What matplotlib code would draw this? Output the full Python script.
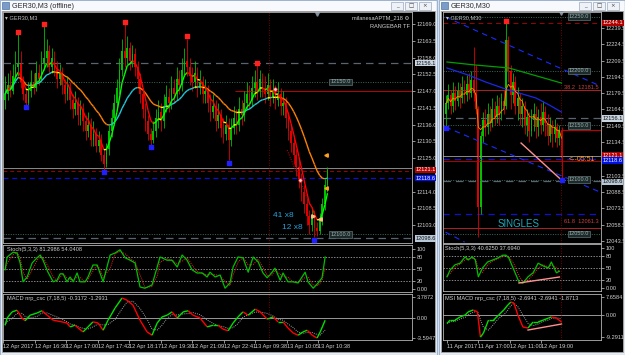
import numpy as np
import pandas as pd
import matplotlib
matplotlib.use("Agg")
import matplotlib.pyplot as plt
from matplotlib.collections import LineCollection
from matplotlib.patches import Rectangle
from matplotlib.transforms import blended_transform_factory

# ---------------- GER30 M3 (left window) ----------------
m3_open0 = 12144
m3_close = [12146, 12149, 12147, 12152, 12155, 12156, 12150, 12146, 12143, 12147,
            12150, 12148, 12153, 12151, 12156, 12158, 12160, 12155, 12158, 12154,
            12151, 12153, 12149, 12146, 12148, 12144, 12141, 12143, 12139, 12141,
            12137, 12134, 12136, 12131, 12133, 12129, 12131, 12126, 12123, 12128,
            12134, 12138, 12143, 12148, 12154, 12160, 12158, 12161, 12157, 12159,
            12155, 12151, 12146, 12141, 12137, 12133, 12131, 12134, 12138, 12140,
            12137, 12142, 12145, 12143, 12148, 12146, 12151, 12149, 12154, 12157,
            12155, 12152, 12150, 12153, 12148, 12150, 12146, 12147, 12143, 12140,
            12142, 12137, 12139, 12135, 12133, 12136, 12131, 12135, 12138, 12136,
            12141, 12139, 12143, 12146, 12144, 12148, 12150, 12147, 12151, 12148,
            12146, 12149, 12145, 12147, 12144, 12146, 12142, 12143, 12138, 12134,
            12130, 12126, 12122, 12118, 12114, 12110, 12106, 12103, 12106, 12102,
            12101, 12105, 12110, 12116, 12121]
m3_high = [12152, 12153, 12154, 12156, 12160, 12165.7, 12160, 12152, 12148, 12150,
           12154, 12153, 12157, 12156, 12160, 12168.3, 12164, 12162, 12161, 12160,
           12157, 12156, 12155, 12151, 12152, 12150, 12146, 12147, 12145, 12144,
           12143, 12139, 12140, 12138, 12137, 12135, 12134, 12133, 12128, 12130,
           12136, 12141, 12146, 12151, 12158, 12164, 12169, 12165, 12163, 12162,
           12161, 12157, 12153, 12148, 12143, 12139, 12135, 12137, 12141, 12144,
           12143, 12146, 12149, 12148, 12152, 12151, 12155, 12154, 12158, 12161,
           12164.1, 12158, 12155, 12157, 12155, 12154, 12152, 12151, 12149, 12146,
           12146, 12144, 12143, 12141, 12138, 12139, 12138, 12138, 12142, 12141,
           12145, 12144, 12147, 12150, 12149, 12152, 12154, 12155.5, 12154, 12153,
           12152, 12153, 12151, 12151, 12149, 12150, 12148, 12147, 12145, 12140,
           12136, 12132, 12128, 12125, 12120, 12116, 12112, 12108, 12109, 12108,
           12104, 12107, 12112, 12118, 12122]
m3_low = [12141, 12144, 12145, 12146, 12150, 12152, 12148, 12144, 12142.4, 12142,
          12145, 12146, 12147, 12149, 12150, 12154, 12155, 12153, 12153, 12152,
          12148, 12149, 12146, 12143, 12144, 12141, 12138, 12139, 12136, 12136,
          12134, 12131, 12132, 12129, 12129, 12127, 12127, 12124, 12121.1, 12122,
          12126, 12132, 12136, 12141, 12146, 12152, 12155, 12156, 12154, 12155,
          12152, 12148, 12143, 12138, 12134, 12131, 12129.3, 12130, 12132, 12135,
          12134, 12135, 12140, 12140, 12141, 12143, 12144, 12146, 12147, 12152,
          12152, 12149, 12147, 12148, 12145, 12146, 12143, 12143, 12140, 12137,
          12138, 12134, 12135, 12132, 12130, 12131, 12124.3, 12129, 12133, 12133,
          12134, 12136, 12137, 12141, 12141, 12142, 12145, 12144, 12145, 12145,
          12143, 12144, 12142, 12143, 12141, 12142, 12139, 12139, 12135, 12131,
          12127, 12123, 12119, 12115, 12111, 12107, 12103, 12100, 12101, 12099,
          12099.5, 12100, 12103, 12108, 12114]
m3_top_dots = [5, 15, 46, 70, 97]
m3_bottom_dots = [8, 38, 56, 86, 119]
m3_price_ticks = [12169.0, 12163.5, 12158.0, 12152.5, 12147.0, 12141.5, 12136.0,
                  12130.5, 12125.0, 12114.0, 12108.5, 12103.0]
m3_time_labels = ["12 Apr 2017", "12 Apr 16:30", "12 Apr 17:00", "12 Apr 17:42",
                  "12 Apr 18:17", "12 Apr 19:30", "12 Apr 21:09", "12 Apr 22:41",
                  "13 Apr 09:38", "13 Apr 10:05", "13 Apr 10:38"]

m3_stoch_x = [0, 0.8, 3.1, 4.6, 5.8, 6.9, 8.5, 10.4, 12.3, 13.5, 14.6, 16.5, 18.5, 20,
              21.2, 22.3, 23.8, 25, 26.2, 27.7, 28.8, 30.8, 31.9, 33.8, 35.4, 36.5,
              37.7, 40.4, 42.3, 44.2, 46.2, 48.1, 50, 51.9, 53.8, 56.5, 58.5, 59.6,
              62.3, 64.2, 66.2, 68.1, 70, 71.9, 73.8, 75.8, 77.7, 78.8, 80.8, 82.7,
              84.6, 86.5, 87.7, 89.6, 91.5, 93.5, 95.4, 97.3, 99.2, 100.8, 102.7,
              103.8, 105.8, 106.9, 108.8, 110.8, 112.7, 115.4, 116.5, 118.5, 120.4,
              121.9, 123.1]
m3_stoch_k = [48, 80, 92, 90, 65, 18, 30, 65, 78, 85, 72, 42, 18, 22, 38, 38, 18, 30,
              18, 40, 18, 18, 30, 60, 60, 40, 18, 85, 90, 98, 78, 72, 65, 5, 2, 10,
              55, 80, 72, 72, 55, 85, 72, 48, 40, 40, 30, 42, 30, 35, 2, 15, 55, 80,
              78, 42, 80, 68, 40, 28, 42, 52, 22, 40, 18, 18, 15, 42, 18, 2, 15, 28, 80]
m3_macd_x = [0, 0.8, 2.7, 4.6, 6.5, 7.7, 9.6, 12.3, 14.2, 16.2, 18.5, 21.9, 23.8, 25,
             26.9, 28.1, 30, 31.9, 33.8, 35.8, 37.7, 39.6, 42.3, 45, 46.9, 49.2, 51.9,
             54.6, 56.5, 58.5, 60.4, 62.3, 64.2, 66.2, 68.5, 70.4, 72.3, 75, 77.7, 80,
             81.9, 83.8, 85.8, 87.7, 89.6, 91.5, 93.5, 96.2, 98.1, 100.8, 103.1, 105,
             106.9, 108.8, 110.8, 112.7, 114.6, 116.2, 118.1, 120, 121.2, 123.1]
m3_macd = [-1.3, 0, 1.1, 1.4, 0, -0.5, 0.5, 0.9, 1.3, 0.5, -0.4, -0.7, -0.9, -1.6,
           -1.3, -1.8, -2.5, -1.6, -0.7, -0.9, -2.2, -0.4, 1.8, 3.6, 3.2, 2.3, -0.4,
           -2.5, -3.1, -0.9, 0.2, 0.5, 1.1, 0, 1.1, 1.3, 0.5, 0, -1.6, -1.3, -1.3,
           -2.0, -2.3, -0.9, 0.2, 1.1, 0.5, 1.6, 1.1, -0.2, 0.2, -0.7, -0.7, -1.8,
           -2.7, -3.1, -2.5, -2.2, -3.1, -3.6, -2.5, -0.4]

# ---------------- GER30 M30 (right window) ----------------
m30_open0 = 12160
m30_close = [12170, 12178, 12168, 12180, 12172, 12182, 12175, 12185, 12178, 12188,
             12180, 12192, 12180, 12165, 12075, 12140, 12155, 12148, 12160, 12152,
             12165, 12158, 12168, 12160, 12172, 12168, 12228, 12200, 12178, 12190,
             12168, 12175, 12160, 12168, 12150, 12158, 12145, 12155, 12160, 12148,
             12158, 12150, 12162, 12152, 12140, 12150, 12142, 12148, 12138, 12146,
             12120]
m30_high = [12178, 12188, 12182, 12190, 12186, 12190, 12189, 12195, 12192, 12196,
            12198, 12200, 12222, 12205, 12168, 12145, 12162, 12165, 12170, 12168,
            12175, 12172, 12178, 12176, 12180, 12182, 12245, 12232, 12205, 12198,
            12195, 12185, 12180, 12175, 12172, 12165, 12162, 12165, 12170, 12168,
            12165, 12170, 12172, 12168, 12160, 12158, 12155, 12156, 12152, 12150,
            12148]
m30_low = [12147, 12165, 12160, 12162, 12164, 12168, 12166, 12170, 12170, 12172,
           12174, 12176, 12172, 12160, 12047, 12068, 12135, 12140, 12142, 12145,
           12148, 12150, 12152, 12150, 12155, 12160, 12165, 12190, 12165, 12170,
           12160, 12155, 12150, 12148, 12142, 12140, 12135, 12140, 12145, 12138,
           12140, 12142, 12145, 12140, 12132, 12135, 12130, 12135, 12130, 12132,
           12099.5]
m30_price_ticks = [12239.5, 12224.5, 12209.5, 12194.5, 12179.5, 12164.5, 12149.5,
                   12134.5, 12103.5, 12088.5, 12073.5, 12058.5, 12043.5]
m30_time_labels = ["11 Apr 2017", "11 Apr 17:00", "12 Apr 11:00", "12 Apr 19:00"]
m30_green_x = [0.4, 12.7, 27.2, 50]
m30_green_ma = [12208.2, 12205.4, 12202.7, 12188.8]
m30_blue_x = [0.4, 9.6, 17.1, 24.6, 30.3, 39, 44.7, 50]
m30_blue_ma = [12202.7, 12196.2, 12189.8, 12184.2, 12180.5, 12175, 12168.6, 12162.1]

m30_stoch_x = [0.4, 1.8, 3.9, 6.1, 8.3, 9.6, 11.4, 12.7, 14, 15.8, 18, 20.2, 22.4,
               24.6, 25.9, 27.2, 29.4, 31.6, 33.3, 35.5, 37.7, 39.9, 42.1, 44.3,
               45.6, 47.8, 49.1]
m30_stoch_k = [28, 45, 58, 62, 78, 70, 78, 70, 28, 50, 65, 70, 75, 82, 82, 75, 45, 15,
               12, 28, 38, 62, 55, 50, 65, 38, 42]
m30_macd_x = [0.4, 1.8, 3.9, 6.1, 8.3, 9.6, 11.8, 13.6, 14.9, 16.2, 18.4, 20.6, 22.8,
              25, 26.8, 28.1, 29.4, 31.1, 33.3, 35.5, 37.7, 39.9, 42.1, 44.3, 45.6,
              47.8, 50]
m30_macd = [-3.5, -2.1, -2.1, -0.8, 0, 1.3, 2.1, 1.3, -9.2, -7.5, -2.1, -2.1, 0, 2.1,
            4.2, 5.4, 5.0, 0, -5.0, -5.4, -2.9, -2.9, -2.1, -1.3, -0.8, -1.3, -2.9]

plt.rcParams['font.family'] = ['Liberation Sans Narrow', 'Liberation Sans', 'DejaVu Sans']
FS = 4.1

W, H = 625, 355
fig = plt.figure(figsize=(6.25, 3.55), dpi=100, facecolor='#dce6f2')


def box(x0, y0, x1, y1):
    return [x0 / W, 1 - y1 / H, (x1 - x0) / W, (y1 - y0) / H]


# window chrome
bg = fig.add_axes([0, 0, 1, 1])
bg.set_xlim(0, W)
bg.set_ylim(H, 0)
bg.axis('off')
for x0, x1, title in [(0, 437, 'GER30,M3 (offline)'), (439, 625, 'GER30,M30')]:
    bg.add_patch(Rectangle((x0, 0), x1 - x0, H, fc='#e4ecf6', ec='#9db3cf', lw=0.8))
    bg.add_patch(Rectangle((x0 + 1, 1), x1 - x0 - 2, 10, fc='#f7f9fc', ec='none'))
    bg.add_patch(Rectangle((x0 + 2, 2), 7, 7, fc='#7a9cc8', ec='#3a5f90', lw=0.4))
    bg.text(x0 + 12, 6, title, fontsize=5.2, color='#2a2a2a', va='center')
    bg.add_patch(Rectangle((x0 + 2, 11), x1 - x0 - 4, H - 14, fc='black', ec='#a8a8a8', lw=0.6))
    for k, g in enumerate(['_', '□', '×']):
        bx = x1 - 46 + 14 * k
        bg.add_patch(Rectangle((bx, 1.5), 12, 8, fc='#eef2f7', ec='#9aaac0', lw=0.5))
        bg.text(bx + 6, 5.5, g, fontsize=4, ha='center', va='center', color='#404040',
                family=['DejaVu Sans'])


def style(ax, xlim, ylim):
    ax.set_facecolor('black')
    ax.set_xlim(*xlim)
    ax.set_ylim(*ylim)
    for s in ax.spines.values():
        s.set_color('#b4b4b4')
        s.set_linewidth(0.6)
    ax.yaxis.tick_right()
    ax.tick_params(colors='#d0d0d0', labelsize=FS, length=2, width=0.5, pad=1.2)
    ax.set_xticks([])


def candles(ax, o0, c, h, l, width):
    c = np.asarray(c, float)
    o = np.concatenate([[o0], c[:-1]])
    x = np.arange(len(c))
    cols = np.where(c >= o, '#00c000', '#e00000')
    ax.vlines(x, l, h, colors=cols, lw=0.6)
    ax.bar(x, np.maximum(np.abs(c - o), 0.4), bottom=np.minimum(o, c), width=width,
           color=cols, lw=0)


def trend_line(ax, x, y, up, down, flat=None, lw=1.0, tol=0.0):
    x = np.asarray(x, float)
    y = np.asarray(y, float)
    pts = np.column_stack([x, y])
    segs = np.stack([pts[:-1], pts[1:]], axis=1)
    d = np.diff(y)
    cols = [up if v > tol else (down if v < -tol else (flat or up)) for v in d]
    ax.add_collection(LineCollection(segs, colors=cols, linewidths=lw))


def axis_box(ax, y, txt, fc, tc):
    ax.text(1.008, y, txt, transform=ax.get_yaxis_transform(), fontsize=FS, color=tc,
            va='center', ha='left', bbox=dict(boxstyle='square,pad=0.12', fc=fc, ec='none'))


def level_box(ax, x, y, txt):
    ax.text(x, y, txt, fontsize=FS, color='#9fb0b0', ha='center', va='center',
            bbox=dict(boxstyle='square,pad=0.15', fc='#1c2a2a', ec='#5f7474', lw=0.5))


def stoch_panel(ax, xs, ks, xlim, label):
    style(ax, xlim, (-7.5, 110))
    for lv in (80, 50, 20):
        ax.axhline(lv, color='#c0c0c0', ls=(0, (2, 2)), lw=0.5)
    sig = pd.Series(ks).rolling(2, min_periods=1).mean()
    ax.plot(xs, sig, color='#ff2020', ls=(0, (1, 1.2)), lw=0.7)
    ax.plot(xs, ks, color='#00c000', lw=0.9)
    ax.set_yticks([100, 80, 50, 20, 0])
    ax.set_yticklabels(['100', '80', '50', '20', '0.00'])
    ax.text(0.01, 0.95, label, transform=ax.transAxes, fontsize=FS, color='#d0d0d0', va='top')


def macd_panel(ax, xs, ms, xlim, ylim, ticks, tlabels, label, tpos, times):
    style(ax, xlim, ylim)
    ax.axhline(0, color='#b0b0b0', lw=0.6)
    sig = pd.Series(ms).rolling(3, min_periods=1).mean()
    ax.plot(xs, sig, color='#a0a0a0', ls=(0, (1, 1.2)), lw=0.7)
    trend_line(ax, xs, ms, '#00e000', '#ff0000', lw=1.0)
    ax.set_yticks(ticks)
    ax.set_yticklabels(tlabels)
    ax.text(0.01, 0.95, label, transform=ax.transAxes, fontsize=FS, color='#d0d0d0', va='top')
    ax.set_xticks(tpos)
    ax.set_xticklabels(times, ha='left')
    ax.tick_params(axis='x', length=2, pad=1.2)


# ================= left window =================
L_X = (-0.8, 156.5)
axL = fig.add_axes(box(3, 12, 412, 243))
style(axL, L_X, (12097.1, 12172.94))
axL.set_yticks(m3_price_ticks)
axL.set_yticklabels([f"{v:.1f}" for v in m3_price_ticks])

axL.axhline(12156.1, color='#5a6470', ls=(0, (6, 4)), lw=0.9)
axL.axhline(12150.0, color='#3a6a5a', ls=(0, (1, 1.5)), lw=0.7)
axL.hlines(12147.0, 88.5, L_X[1], color='#c00000', lw=0.7)
axL.axhline(12121.6, color='#a0a0a0', lw=0.6)
axL.axhline(12120.9, color='#a00000', ls=(0, (4, 3)), lw=0.7)
axL.axhline(12118.4, color='#1010d0', ls=(0, (4, 3)), lw=0.9)
axL.axhline(12100.0, color='#3a6a5a', ls=(0, (1, 1.5)), lw=0.7)
axL.axhline(12098.6, color='#5a6470', ls=(0, (6, 4)), lw=0.9)
axL.axvline(101.5, color='#a00000', ls=(0, (1, 2)), lw=0.6)

candles(axL, m3_open0, m3_close, m3_high, m3_low, 0.75)
fast = pd.Series(m3_close, dtype=float).ewm(span=5).mean()
slow = pd.Series(m3_close, dtype=float).ewm(span=20).mean()
idx = np.arange(len(m3_close))
trend_line(axL, idx, slow, '#20c8d8', '#ff8000', '#ffff00', lw=1.0, tol=0.12)
trend_line(axL, idx, fast, '#00ff00', '#ff0000', '#ffff00', lw=1.0, tol=0.3)
axL.plot([108.5, 117.3], [12127.6, 12109.5], color='#d00000', ls=(0, (1, 1.5)), lw=0.7)

axL.scatter(m3_top_dots, [m3_high[i] + 0.8 for i in m3_top_dots], s=5, marker='s', c='#ff2020', zorder=5)
axL.scatter(m3_bottom_dots, [m3_low[i] - 0.8 for i in m3_bottom_dots], s=5, marker='s', c='#2020ff', zorder=5)
axL.plot([104, 113.5], [12147.6, 12117.8], 'o', ms=2.5, mfc='#ffd8d8', mec='#ff3030', mew=0.5)
axL.plot([123.5, 123.5], [12126, 12115], '<', ms=2.5, color='#ffa020')
axL.plot([118.5], [12106], '>', ms=2.5, color='#ffc080')
axL.plot([121], [12105], '<', ms=2.5, color='#ffc080')
axL.plot([120], [12172.4], 'v', ms=2.5, color='#8090a0', clip_on=False)

axL.text(107, 12106, '41 x8', fontsize=6, color='#2aa0d8', ha='center', va='center')
axL.text(110.5, 12102.3, '12 x8', fontsize=6, color='#2aa0d8', ha='center', va='center')
level_box(axL, 129, 12150.0, '12150.0')
level_box(axL, 129, 12100.0, '12100.0')
axL.text(0.995, 0.985, 'milanesaAPTM_218 \u2699', transform=axL.transAxes, fontsize=FS,
         color='#d0d0d0', ha='right', va='top')
axL.text(0.995, 0.95, 'RANGEBAR TF', transform=axL.transAxes, fontsize=FS,
         color='#d0d0d0', ha='right', va='top')
axL.text(0.005, 0.985, '\u25be GER30,M3', transform=axL.transAxes, fontsize=FS,
         color='#c0c0c0', ha='left', va='top')
axis_box(axL, 12156.1, '12156.1', '#c8d4e0', '#101010')
axis_box(axL, 12121.1, '12121.1', '#b00000', 'white')
axis_box(axL, 12118.4, '12118.6', '#0010e0', 'white')
axis_box(axL, 12098.6, '12098.6', '#b8c8d8', '#101010')

axLs = fig.add_axes(box(3, 245, 412, 292))
stoch_panel(axLs, m3_stoch_x, m3_stoch_k, L_X, 'Stoch(5,3,3) 81.2986 54.0408')
axLs.axvline(101.5, color='#a00000', ls=(0, (1, 2)), lw=0.6)

axLm = fig.add_axes(box(3, 294, 412, 340))
macd_panel(axLm, m3_macd_x, m3_macd, L_X, (-3.96, 4.32), [3.7872, 0, -3.5947],
           ['3.7872', '0.00', '-3.5947'], 'MACD nrp_csc (7,18,5) -0.3172 -1.2931',
           -0.77 + 12.115 * np.arange(len(m3_time_labels)), m3_time_labels)
axLm.axvline(101.5, color='#a00000', ls=(0, (1, 2)), lw=0.6)

# ================= right window =================
R_X = (-1.3, 67.1)
axR = fig.add_axes(box(443, 12, 601, 243))
style(axR, R_X, (12041.6, 12254.2))
axR.set_yticks(m30_price_ticks)
axR.set_yticklabels([f"{v:.1f}" for v in m30_price_ticks])

dash = (0, (5, 4))
axR.axhline(12250.0, color='#3a6a5a', ls=(0, (1, 1.5)), lw=0.7)
axR.axhline(12244.1, color='#a00000', ls=dash, lw=0.7)
axR.axhline(12200.0, color='#3a6a5a', ls=(0, (1, 1.5)), lw=0.7)
axR.axhline(12182.4, color='#b02020', lw=0.7)
axR.axhline(12156.3, color='#5a6470', ls=(0, (6, 4)), lw=0.9)
axR.axhline(12150.0, color='#3a6a5a', ls=(0, (1, 1.5)), lw=0.7)
axR.hlines(12145.6, 50, R_X[1], color='#c00000', lw=0.8)
axR.axhline(12121.5, color='#a0a0a0', lw=0.6)
axR.axhline(12119.2, color='#1010d0', ls=dash, lw=0.9)
axR.axhline(12117.3, color='#b00000', lw=0.7)
axR.axhline(12100.0, color='#3a6a5a', ls=(0, (1, 1.5)), lw=0.7)
axR.axhline(12098.6, color='#5a6470', ls=(0, (6, 4)), lw=0.9)
axR.axhline(12068.2, color='#1010d0', ls=dash, lw=0.9)
axR.axhline(12055.5, color='#b02020', lw=0.7)
axR.axhline(12050.0, color='#3a6a5a', ls=(0, (1, 1.5)), lw=0.7)
axR.axvline(49.6, color='#a00000', ls=(0, (1, 2)), lw=0.6)

axR.plot([-0.2, 65.8], [12249.6, 12187.0], color='#1a2cff', ls=dash, lw=0.8)
axR.plot([-0.2, 66.7], [12148.3, 12088.5], color='#1a2cff', ls=dash, lw=0.8)
axR.plot([-0.2, 8.1], [12051.6, 12042.4], color='#1a2cff', ls=dash, lw=0.8)

candles(axR, m30_open0, m30_close, m30_high, m30_low, 0.8)
axR.plot(m30_green_x, m30_green_ma, color='#00a000', lw=0.9)
axR.plot(m30_blue_x, m30_blue_ma, color='#1a28e8', lw=0.9)
axR.plot(np.arange(len(m30_close)), pd.Series(m30_close, dtype=float).ewm(span=6).mean(),
         color='#ff8c00', lw=0.6)
axR.plot([32.5, 50], [12133.6, 12099.5], color='#ff9090', lw=1.0)
axR.scatter([0, 50], [m30_low[0], m30_low[50]], s=5, marker='s', c='#2020ff', zorder=5)
axR.scatter([26], [m30_high[26] + 0.5], s=5, marker='s', c='#ff2020', zorder=5)
axR.plot([49.6], [12253.5], 'v', ms=2.5, color='#8090a0', clip_on=False)

rt = blended_transform_factory(axR.transAxes, axR.transData)
axR.text(0.985, 12184.5, '38.2  12181.5', transform=rt, fontsize=FS, color='#d04040', ha='right', va='center')
axR.text(0.985, 12061.3, '61.8  12061.3', transform=rt, fontsize=FS, color='#d04040', ha='right', va='center')
axR.text(53.3, 12118.0, '<--05:51', fontsize=5, color='#ffa020', ha='left', va='center')
axR.text(31.6, 12059, 'SINGLES', fontsize=7, color='#1fa8b8', ha='center', va='center')
for lv in (12250.0, 12200.0, 12150.0, 12100.0, 12050.0):
    level_box(axR, 57.5, lv, f"{lv:.1f}")
axR.text(0.02, 0.985, '\u25be GER30,M30', transform=axR.transAxes, fontsize=FS,
         color='#c0c0c0', ha='left', va='top')
axis_box(axR, 12244.1, '12244.1', '#b00000', 'white')
axis_box(axR, 12156.3, '12156.1', '#c8d4e0', '#101010')
axis_box(axR, 12122.0, '12121.1', '#b00000', 'white')
axis_box(axR, 12117.5, '12118.6', '#0010e0', 'white')
axis_box(axR, 12098.0, '12098.6', '#b8c8d8', '#101010')

axRs = fig.add_axes(box(443, 244, 601, 291))
stoch_panel(axRs, m30_stoch_x, m30_stoch_k, R_X, 'Stoch(5,3,3) 40.6250 37.6940')
axRs.plot([31.6, 49.1], [12.5, 27.5], color='#ff9090', lw=1.0)
axRs.axvline(49.6, color='#a00000', ls=(0, (1, 2)), lw=0.6)

axRm = fig.add_axes(box(443, 294, 601, 340))
macd_panel(axRm, m30_macd_x, m30_macd, R_X, (-10.4, 8.75), [7.6584, 0, -9.2911],
           ['7.6584', '0.00', '-9.2911'], 'MSI MACD nrp_csc (7,18,5) -2.6941 -2.6941 -1.8713',
           0.44 + 13.6 * np.arange(len(m30_time_labels)), m30_time_labels)
axRm.plot([35.5, 50], [-6.25, -3.75], color='#ff9090', lw=1.0)
axRm.axvline(49.6, color='#a00000', ls=(0, (1, 2)), lw=0.6)

fig.savefig('out.png', dpi=100, facecolor=fig.get_facecolor())
